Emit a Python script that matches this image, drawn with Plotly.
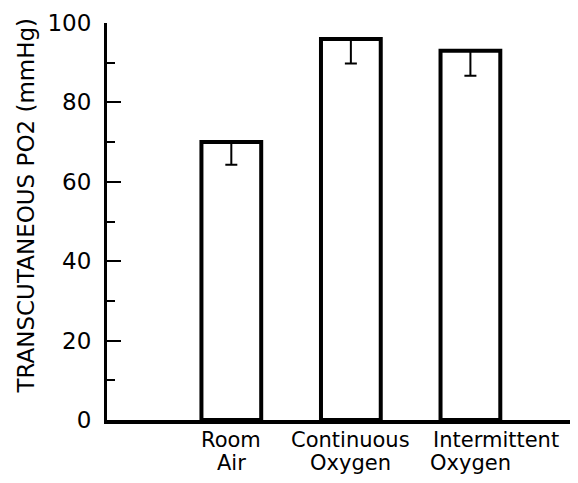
import plotly.graph_objects as go

categories = ["Room<br>Air", "Continuous<br>Oxygen", "Intermittent<br>Oxygen"]
positions = [1, 2, 3]
values = [70, 96, 93]
errors_minus = [5.7, 6.2, 6.3]
errors_plus = [0, 0, 0]
y_ticks = [0, 20, 40, 60, 80, 100]
y_title = "TRANSCUTANEOUS PO2 (mmHg)"

fig = go.Figure()
fig.add_trace(go.Bar(
    x=positions, y=values, width=0.5,
    marker=dict(color="white", line=dict(color="black", width=4)),
    error_y=dict(type="data", symmetric=False, array=errors_plus,
                 arrayminus=errors_minus, color="black", thickness=2, width=6),
    showlegend=False,
))

font = "DejaVu Sans, Liberation Sans, sans-serif"
# category labels: two tightly spaced lines per category
for ci, (pos, label) in enumerate(zip(positions, categories)):
    lines = label.split("<br>")
    for i, line in enumerate(lines):
        shift = 26 if (ci == 2 and i == 0) else 0
        fig.add_annotation(
            x=pos, xref="x", y=-0.05 - 0.058 * i, yref="paper",
            text=line, showarrow=False, xanchor="center", yanchor="middle",
            xshift=shift,
            font=dict(size=21, family=font, color="black"),
        )

fig.add_annotation(
    x=-0.172, xref="paper", y=0.54, yref="paper", text=y_title,
    textangle=-90, showarrow=False, xanchor="center", yanchor="middle",
    font=dict(size=23, family=font, color="black"),
)

fig.update_layout(
    width=570, height=475,
    margin=dict(l=99, r=0, t=15, b=63),
    plot_bgcolor="white", paper_bgcolor="white",
    font=dict(family=font, color="black"),
    xaxis=dict(
        range=[-0.04, 3.9], tickvals=positions, showticklabels=False,
        showline=True, linecolor="black", linewidth=4, ticks="",
        showgrid=False, zeroline=False, automargin=False,
    ),
    yaxis=dict(
        range=[0, 100], tickvals=y_ticks,
        showline=True, linecolor="black", linewidth=3,
        ticks="inside", ticklen=14, tickwidth=2, tickcolor="black",
        minor=dict(tickvals=[10, 30, 50, 70, 90], ticks="inside", ticklen=8,
                   tickwidth=2, tickcolor="black"),
        showgrid=False, zeroline=False, tickfont=dict(size=23),
        ticklabelstandoff=8, automargin=False,
    ),
)
fig.write_html("out.html")
